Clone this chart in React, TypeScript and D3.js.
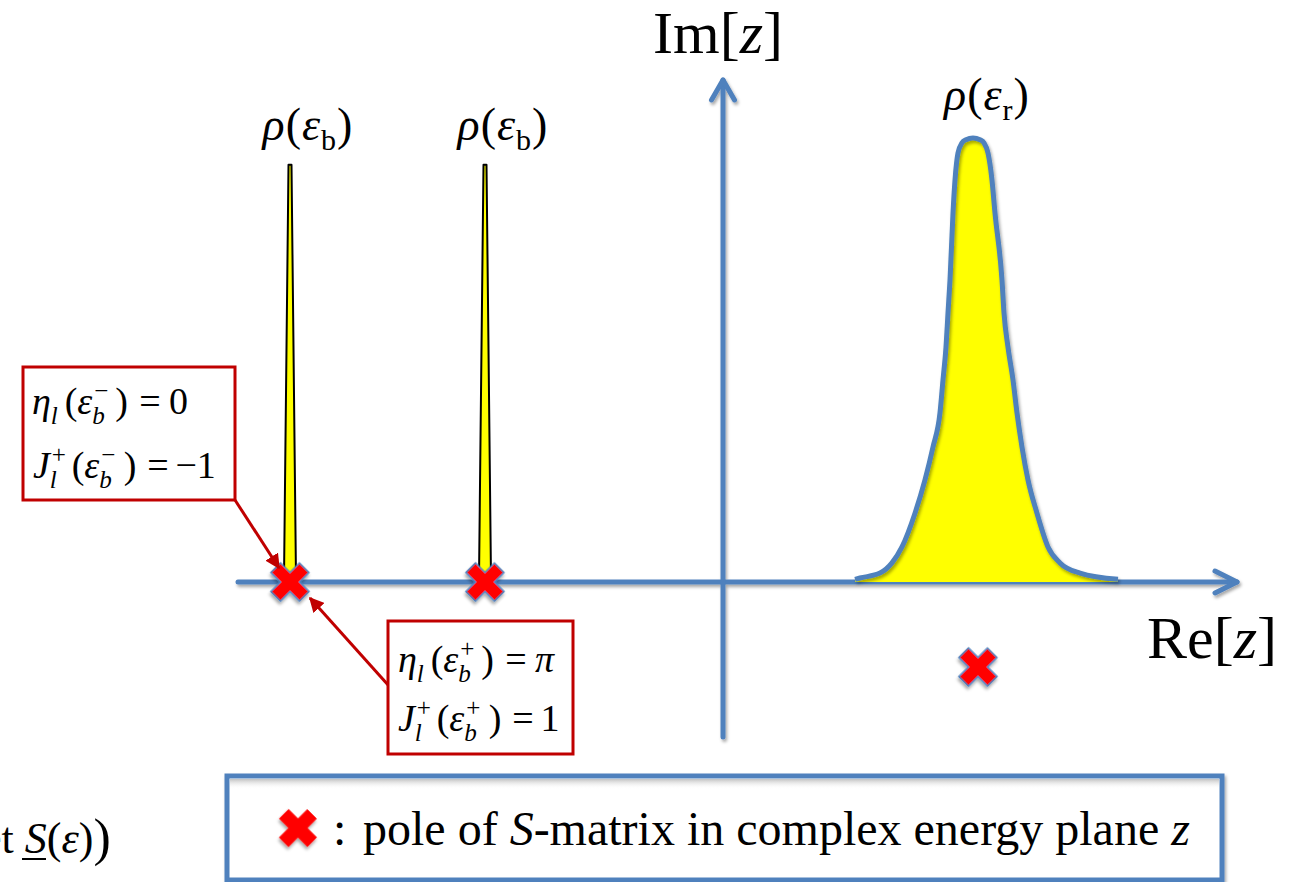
import * as d3 from "d3";
import React from "react";

// axis extents (in units of the complex energy plane)
const reAxis = [-4.85, 5.14];
const imAxis = [-1.55, 5.02];

// bound states: spikes of the density on the real axis
const boundStates = [-4.33, -2.38];
const boundPeak = 0.94;

// resonance density rho(eps_r)
const resRe = [1.32, 1.37, 1.57, 1.69, 1.79, 1.92, 2.02, 2.1, 2.17, 2.2, 2.23, 2.25, 2.27, 2.3, 2.32, 2.35, 2.39, 2.43, 2.5, 2.57, 2.61, 2.65, 2.69, 2.72, 2.79, 2.81, 2.85, 2.9, 2.94, 2.99, 3.05, 3.14, 3.25, 3.37, 3.57, 3.95];
const resRho = [0.006, 0.009, 0.02, 0.043, 0.079, 0.155, 0.23, 0.304, 0.381, 0.455, 0.529, 0.606, 0.68, 0.831, 0.905, 0.966, 0.989, 0.996, 1.0, 0.996, 0.989, 0.966, 0.905, 0.831, 0.68, 0.606, 0.529, 0.455, 0.381, 0.304, 0.23, 0.155, 0.079, 0.043, 0.02, 0.006];

// S-matrix poles
const poleRe = [-4.33, -2.38, 2.55];
const poleIm = [0, 0, -0.85];

const width = 1291;
const height = 882;
const blue = "#4f81bd";
const darkRed = "#c00000";
const serif = "'Liberation Serif', 'Times New Roman', serif";

const x = d3.scaleLinear().domain([-5, 5.5]).range([223, 1273]);
const y = d3.scaleLinear().domain([-1.55, 5.02]).range([737, 80]);
const rho = d3.scaleLinear().domain([0, 1]).range([y(0), y(0) - 444]);

let ctx: CanvasRenderingContext2D | null = null;
function tw(s: string, size: number, it: boolean) {
  if (!ctx) ctx = document.createElement("canvas").getContext("2d");
  if (!ctx) return s.length * size * 0.5;
  ctx.font = `${it ? "italic " : ""}${size}px ${serif}`;
  return ctx.measureText(s).width;
}

type Tok = { t?: string; it?: boolean; sub?: string; sup?: string; gap?: number };

function MathLine({ toks, x0, y0, fs }: { toks: Tok[]; x0: number; y0: number; fs: number }) {
  let cx = x0;
  const out: JSX.Element[] = [];
  const ss = fs * 0.66;
  toks.forEach((k, i) => {
    cx += (k.gap ?? 0) * fs;
    if (k.t) {
      out.push(
        <text key={"t" + i} x={cx} y={y0} fontSize={fs} fontStyle={k.it ? "italic" : "normal"}>{k.t}</text>
      );
      cx += tw(k.t, fs, !!k.it);
    }
    let w = 0;
    if (k.sup) {
      out.push(<text key={"p" + i} x={cx + 2} y={y0 - fs * 0.4} fontSize={ss}>{k.sup}</text>);
      w = Math.max(w, tw(k.sup, ss, false) + 2);
    }
    if (k.sub) {
      out.push(<text key={"b" + i} x={cx} y={y0 + fs * 0.25} fontSize={ss} fontStyle="italic">{k.sub}</text>);
      w = Math.max(w, tw(k.sub, ss, true));
    }
    cx += w;
  });
  return <g style={{ fontFamily: serif }} fill="#000">{out}</g>;
}

const etaLine = (s: string, rhs: string, rhsIt: boolean): Tok[] => [
  { t: "η", it: true, sub: "l" },
  { t: "(", gap: 0.18 },
  { t: "ε", it: true, sub: "b", sup: s },
  { t: ")", gap: 0.18 },
  { t: "=", gap: 0.3 },
  { t: rhs, it: rhsIt, gap: 0.22 },
];
const jLine = (s: string, rhs: string): Tok[] => [
  { t: "J", it: true, sub: "l", sup: "+" },
  { t: "(", gap: 0.15 },
  { t: "ε", it: true, sub: "b", sup: s },
  { t: ")", gap: 0.22 },
  { t: "=", gap: 0.28 },
  { t: rhs, gap: 0.18 },
];

export default function App() {
  const area = d3.area<number>()
    .x((_, i) => x(resRe[i]))
    .y0(rho(0))
    .y1((d) => rho(d))
    .curve(d3.curveMonotoneX);
  const line = d3.line<number>()
    .x((_, i) => x(resRe[i]))
    .y((d) => rho(d))
    .curve(d3.curveMonotoneX);
  const cross = d3.symbol().type(d3.symbolCross).size(900)();

  const x0 = x(0), y0 = y(0);
  const reEnd = x(reAxis[1]);
  const imTop = y(imAxis[1]);

  return (
    <svg width={width} height={height} style={{ position: "absolute", left: 0, top: 0, background: "#fff" }}>
      <defs>
        <filter id="sh" x="-20%" y="-20%" width="140%" height="140%">
          <feDropShadow dx="1.5" dy="2.5" stdDeviation="1.6" floodColor="#000" floodOpacity="0.35" />
        </filter>
        <marker id="ah" viewBox="0 0 10 10" refX="9" refY="5" markerWidth="5" markerHeight="5" orient="auto">
          <path d="M0,0 L10,5 L0,10 z" fill={darkRed} />
        </marker>
        <linearGradient id="inner" x1="0" y1="0" x2="0" y2="1">
          <stop offset="0" stopColor="#999" stopOpacity="0.6" />
          <stop offset="1" stopColor="#fff" stopOpacity="0" />
        </linearGradient>
      </defs>

      {/* bound-state spikes */}
      {boundStates.map((e) => (
        <path key={e}
          d={`M${x(e) - 1.5},${rho(boundPeak)} L${x(e) + 1.5},${rho(boundPeak)} L${x(e) + 6},${y0 - 4} L${x(e) - 6},${y0 - 4} Z`}
          fill="#ffff00" stroke="#000" strokeWidth={2} strokeLinejoin="round" />
      ))}

      {/* axes */}
      <g stroke={blue} strokeWidth={5} fill="none" strokeLinecap="round" strokeLinejoin="round" filter="url(#sh)">
        <line x1={x(reAxis[0])} y1={y0} x2={reEnd} y2={y0} />
        <polyline points={`${reEnd - 22},${y0 - 11} ${reEnd},${y0} ${reEnd - 22},${y0 + 11}`} />
        <line x1={x0} y1={y(imAxis[0])} x2={x0} y2={imTop} />
        <polyline points={`${x0 - 11.5},${imTop + 20} ${x0},${imTop} ${x0 + 11.5},${imTop + 20}`} />
      </g>

      {/* resonance */}
      <path d={area(resRho) ?? ""} fill="#ffff00" />
      <path d={line(resRho) ?? ""} fill="none" stroke={blue} strokeWidth={5} strokeLinejoin="round" filter="url(#sh)" />

      {/* poles */}
      {poleRe.map((r, i) => (
        <path key={i} d={cross} transform={`translate(${x(r)},${y(poleIm[i])}) rotate(45)`}
          fill="#ff0000" stroke={blue} strokeWidth={1.5} filter="url(#sh)" />
      ))}

      {/* density labels */}
      <g style={{ fontFamily: serif }} fontSize={46} fill="#000" letterSpacing={1}>
        {boundStates.map((e) => (
          <text key={e} x={x(e) + 18} y={rho(boundPeak) - 25} textAnchor="middle">
            <tspan fontStyle="italic">ρ</tspan>(<tspan fontStyle="italic">ε</tspan>
            <tspan fontSize={30} dy={10}>b</tspan><tspan dy={-10}>)</tspan>
          </text>
        ))}
        <text x={x(2.5) + 14} y={rho(1) - 28} textAnchor="middle">
          <tspan fontStyle="italic">ρ</tspan>(<tspan fontStyle="italic">ε</tspan>
          <tspan fontSize={30} dy={10}>r</tspan><tspan dy={-10}>)</tspan>
        </text>
      </g>

      {/* axis labels */}
      <g style={{ fontFamily: serif }} fontSize={60} fill="#000">
        <text x={653} y={53}>Im[<tspan fontStyle="italic">z</tspan>]</text>
        <text x={1147} y={658}>Re[<tspan fontStyle="italic">z</tspan>]</text>
      </g>

      {/* annotation boxes */}
      <line x1={235} y1={500} x2={279} y2={568} stroke={darkRed} strokeWidth={3} markerEnd="url(#ah)" />
      <line x1={389} y1={686} x2={310} y2={598} stroke={darkRed} strokeWidth={3} markerEnd="url(#ah)" />
      <rect x={23} y={367} width={212} height={133} fill="#fff" stroke={darkRed} strokeWidth={3} />
      <MathLine toks={etaLine("−", "0", false)} x0={32} y0={414} fs={38} />
      <MathLine toks={jLine("−", "−1")} x0={33} y0={478} fs={38} />
      <rect x={388} y={621} width={185} height={133} fill="#fff" stroke={darkRed} strokeWidth={3} />
      <MathLine toks={etaLine("+", "π", true)} x0={398} y0={672} fs={38} />
      <MathLine toks={jLine("+", "1")} x0={398} y0={731} fs={38} />

      {/* cut-off text at lower left */}
      <g style={{ fontFamily: serif }} fill="#000">
        <text x={-40} y={853} fontSize={44}>
          det <tspan fontStyle="italic">S</tspan>(<tspan fontStyle="italic">ε</tspan>)<tspan fontSize={52} dy={2}>)</tspan>
        </text>
        <line x1={22} y1={859} x2={46} y2={859} stroke="#000" strokeWidth={2} />
      </g>

      {/* legend */}
      <rect x={227} y={776} width={995} height={104} fill="#fff" stroke={blue} strokeWidth={5} filter="url(#sh)" />
      <rect x={230} y={779} width={989} height={10} fill="url(#inner)" />
      <path d={cross} transform="translate(298,828) rotate(45)" fill="#ff0000" filter="url(#sh)" />
      <g style={{ fontFamily: serif }} fontSize={48} fill="#000">
        <text x={333} y={845}>:</text>
        <text x={363} y={845}>
          pole of <tspan fontStyle="italic">S</tspan>-matrix in complex energy plane <tspan fontStyle="italic">z</tspan>
        </text>
      </g>
    </svg>
  );
}
